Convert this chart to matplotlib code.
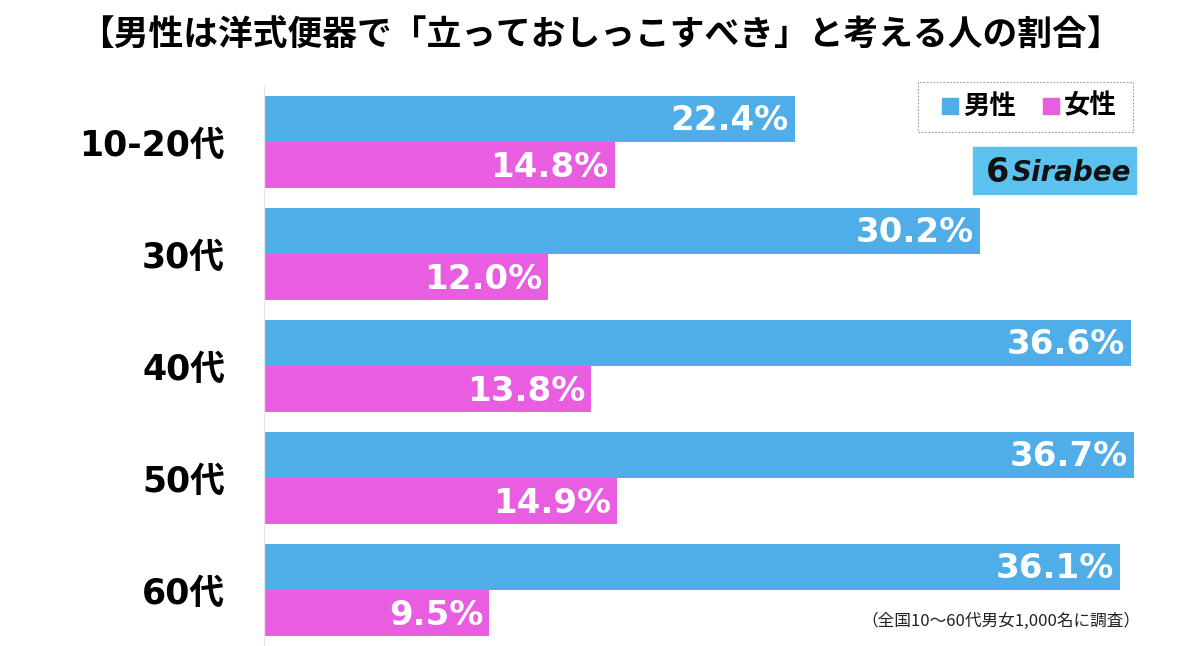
import matplotlib
matplotlib.use("Agg")
import matplotlib.pyplot as plt
from matplotlib.patches import Rectangle

plt.rcParams['font.family'] = ['Noto Sans CJK JP', 'DejaVu Sans']

categories = ["10-20代", "30代", "40代", "50代", "60代"]
male = [22.4, 30.2, 36.6, 36.7, 36.1]
female = [14.8, 12.0, 13.8, 14.9, 9.5]
series_names = ["男性", "女性"]
title = "【男性は洋式便器で「立っておしっこすべき」と考える人の割合】"
note = "（全国10～60代男女1,000名に調査）"

BLUE = "#4FADE8"
PINK = "#E95DE0"

W, H = 1200, 646
fig = plt.figure(figsize=(W / 100, H / 100), dpi=100)
fig.patch.set_facecolor("white")

ax_left, ax_right = 264, 1160
ax_top, ax_bot = 86, 646
ax = fig.add_axes([ax_left / W, 1 - ax_bot / H, (ax_right - ax_left) / W, (ax_bot - ax_top) / H])
ax.set_xlim(0, (ax_right - ax_left) / 23.7)
ax.set_ylim(len(categories) - 0.5, -0.5)

bh = 0.415
ys = list(range(len(categories)))
ax.barh([y - bh / 2 for y in ys], male, height=bh, color=BLUE, left=0)
ax.barh([y + bh / 2 for y in ys], female, height=bh, color=PINK, left=0)

for y, v in zip(ys, male):
    ax.text(v - 0.25, y - bh / 2 + 0.02, f"{v:.1f}%", ha="right", va="center",
            color="white", fontsize=24.5, fontweight="bold", family=['DejaVu Sans'])
for y, v in zip(ys, female):
    ax.text(v - 0.25, y + bh / 2 + 0.02, f"{v:.1f}%", ha="right", va="center",
            color="white", fontsize=24.5, fontweight="bold", family=['DejaVu Sans'])

ax.set_yticks(ys)
ax.set_yticklabels(categories, fontsize=25, fontweight="bold",
                   family=['DejaVu Sans', 'Noto Sans CJK JP'])
ax.tick_params(axis="y", length=0, pad=28)
ax.set_xticks([])
for s in ["top", "right", "bottom"]:
    ax.spines[s].set_visible(False)
ax.spines["left"].set_color("#e6e6e6")
ax.spines["left"].set_linewidth(1.0)

# Title
fig.text(0.5, 1 - 35 / H, title, ha="center", va="center", fontsize=25, fontweight="bold")

# Legend box
lx0, ly0, lx1, ly1 = 918, 82, 1133, 132
fig.patches.append(Rectangle((lx0 / W, 1 - ly1 / H), (lx1 - lx0) / W, (ly1 - ly0) / H,
                             transform=fig.transFigure, fill=False, edgecolor="#999999",
                             linestyle=(0, (1.5, 1.5)), linewidth=0.8))
for (sx, col, name) in [(942, BLUE, series_names[0]), (1043, PINK, series_names[1])]:
    fig.patches.append(Rectangle((sx / W, 1 - 114 / H), 16 / W, 16 / H,
                                 transform=fig.transFigure, color=col))
    fig.text((sx + 21) / W, 1 - 106 / H, name, ha="left", va="center",
             fontsize=19, fontweight="bold")

# Sirabee logo
fig.patches.append(Rectangle((973 / W, 1 - 194 / H), 163 / W, 47 / H,
                             transform=fig.transFigure, color="#5BC1EE"))
fig.text(997 / W, 1 - 172 / H, "6", ha="center", va="center", fontsize=24,
         fontweight="bold", color="#111111", family=['DejaVu Sans'])
fig.text(1012 / W, 1 - 173 / H, "Sirabee", ha="left", va="center", fontsize=20,
         fontweight="bold", style="italic", color="#111111", family=['DejaVu Sans'])

# Note
fig.text(1140 / W, 1 - 621 / H, note, ha="right", va="center", fontsize=12, color="#222222")

fig.savefig("out.png", dpi=100, facecolor="white")
